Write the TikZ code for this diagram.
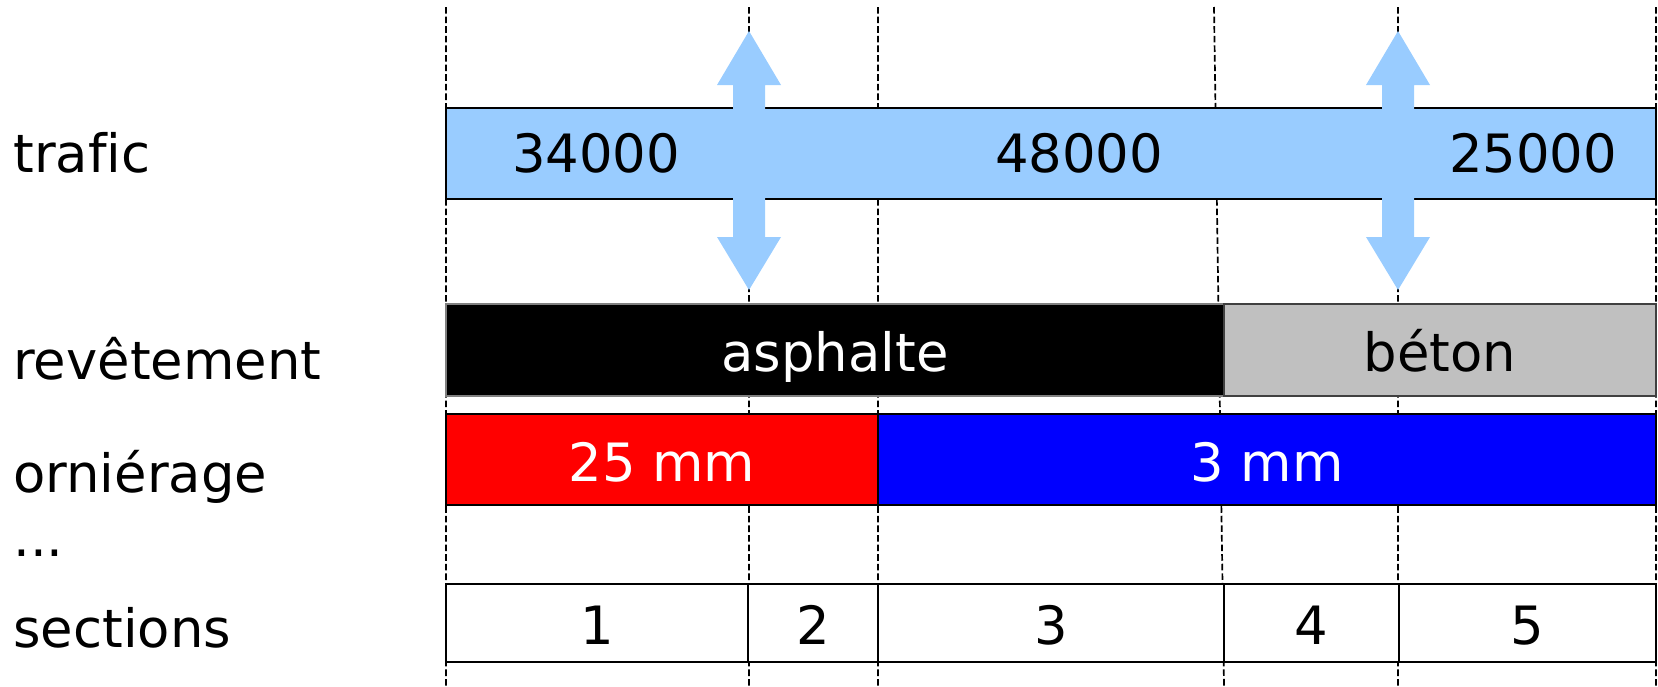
\documentclass[tikz,border=0pt]{standalone}
\usepackage{fontspec}
\setmainfont{DejaVu Sans}[Ligatures=NoCommon]
\usepackage{tikz}
\usepackage{xcolor}

\definecolor{trafficblue}{HTML}{99CCFF}
\definecolor{betongray}{HTML}{C0C0C0}

\begin{document}
\begin{tikzpicture}[x=0.5pt, y=-0.5pt,
                every node/.style={inner sep=0, font=\fontsize{26.4}{32}\selectfont},
                rowlabel/.style={anchor=base west},
                value/.style={anchor=base},
                divider/.style={dash pattern=on 3.3pt off 1.5pt, line width=0.85pt},
                bar/.style={draw, line width=0.75pt}]
                \useasboundingbox (0, 0) rectangle (1658, 686);

                \draw[divider]
                (446, 7) -- (446, 686)
                (749, 7) -- (749, 686)
                (878, 7) -- (878, 686)
                (1214, 7) -- (1224, 686)
                (1398, 7) -- (1398, 686)
                (1656, 7) -- (1656, 686);

                \draw[bar, fill=trafficblue] (446, 108) rectangle (1656, 199);
                \draw[bar, fill=black, draw=gray] (446, 304) rectangle (1224, 396);
                \draw[bar, fill=betongray, draw=darkgray] (1224, 304) rectangle (1656, 396);
                \draw[bar, fill=red] (446, 414) rectangle (878, 505);
                \draw[bar, fill=blue] (878, 414) rectangle (1656, 505);
                \draw[bar, fill=white]
                (446, 584) rectangle (748, 662)
                (748, 584) rectangle (878, 662)
                (878, 584) rectangle (1224, 662)
                (1224, 584) rectangle (1399, 662)
                (1399, 584) rectangle (1656, 662);

                \foreach \ax in {749, 1398}
                \fill[trafficblue] (\ax, 31) -- ++(32, 54) -- ++(-16, 0) -- ++(0, 152) -- ++(16, 0)
                -- (\ax, 290) -- ++(-32, -53) -- ++(16, 0) -- ++(0, -152) -- ++(-16, 0) -- cycle;

                \node[rowlabel] (trafic) at (13, 172) {trafic};
                \node[rowlabel] (revetement) at (13, 379) {revêtement};
                \node[rowlabel] (ornierage) at (13, 492) {orniérage};
                \node[rowlabel] (etc) at (13, 556) {...};
                \node[rowlabel] (sections) at (13, 647) {sections};

                \node[value] (traffic1) at (596, 172) {34000};
                \node[value] (traffic2) at (1079, 172) {48000};
                \node[value] (traffic3) at (1533, 172) {25000};
                \node[value, text=white] (asphalte) at (835, 371) {asphalte};
                \node[value] (beton) at (1440, 371) {béton};
                \node[value, text=white] (rut1) at (662, 481) {25 mm};
                \node[value, text=white] (rut2) at (1267, 481) {3 mm};

                \foreach \sx/\sn in {597/1, 813/2, 1051/3, 1311/4, 1527/5}
                \node[value] (sec\sn) at (\sx, 644) {\sn};
\end{tikzpicture}
\end{document}
